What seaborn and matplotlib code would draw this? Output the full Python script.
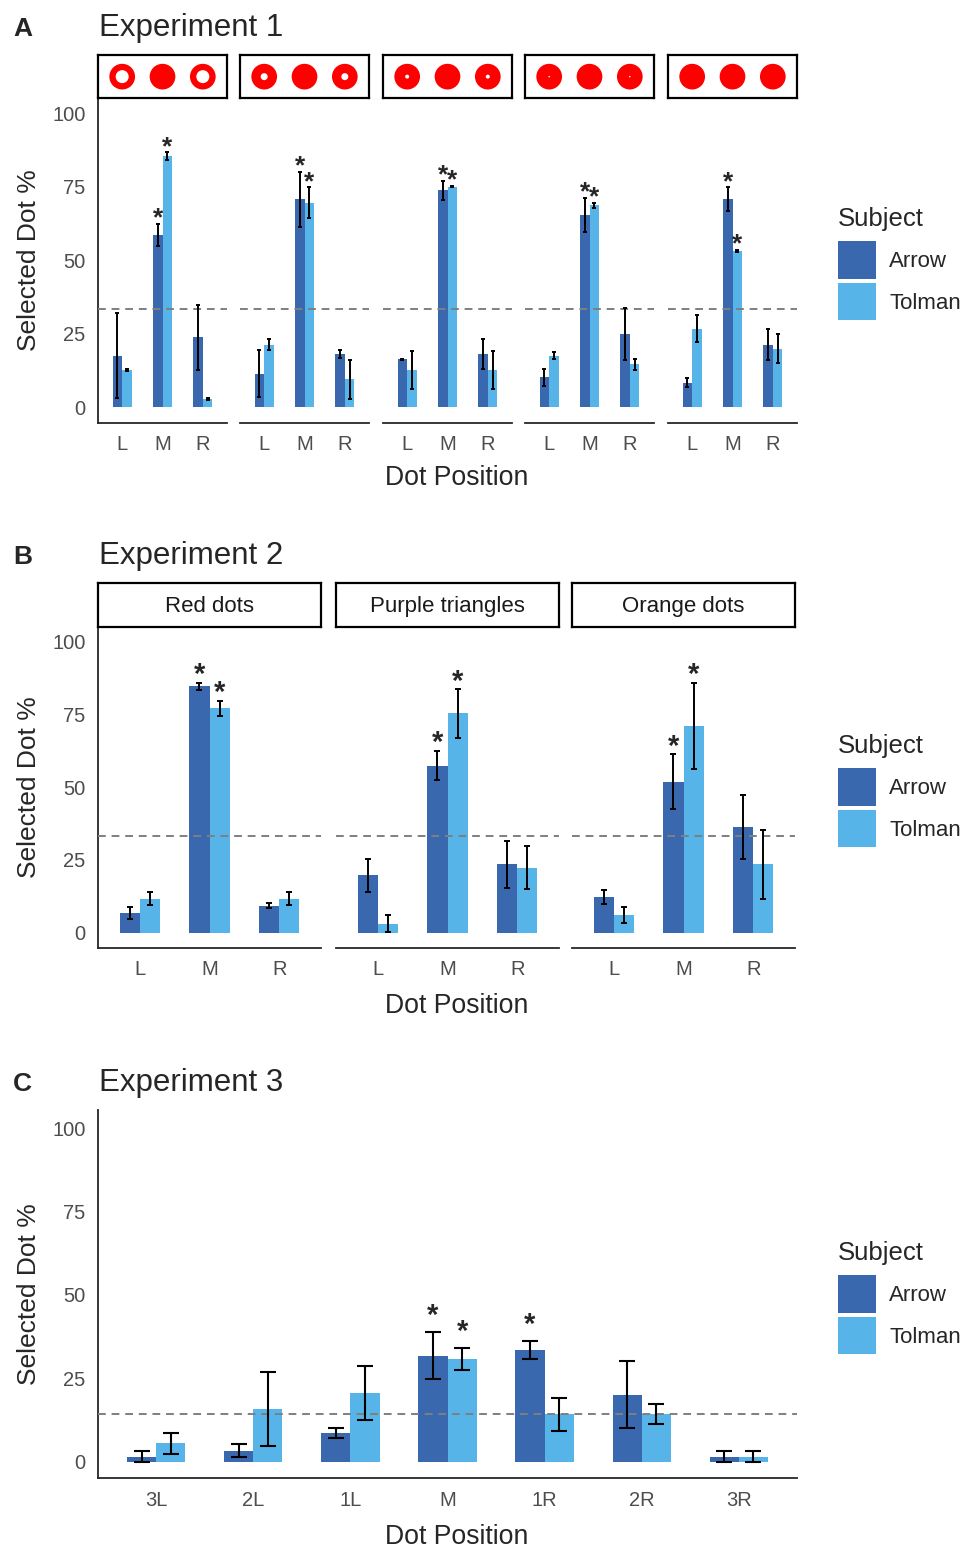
import matplotlib
matplotlib.use("Agg")
import matplotlib.pyplot as plt
from matplotlib.patches import Patch
import numpy as np
import pandas as pd
import seaborn as sns

sns.set_style("white")
plt.rcParams["font.family"] = ["Liberation Sans", "DejaVu Sans"]

# ---------------- data ----------------
subjects = ["Arrow", "Tolman"]
colors = {"Arrow": "#3A68AF", "Tolman": "#56B4E9"}

# Experiment 1: five stimulus sets, dots L/M/R
exp1_pos = ["L", "M", "R"]
exp1_holes = [13, 7, 4, 1.5, 0]  # white centre of the flanking dots (px)
exp1_arrow = [[17.6, 58.5, 23.8], [11.5, 70.7, 18.1], [16.3, 73.8, 18.1],
              [10.2, 65.3, 24.9], [8.4, 70.7, 21.3]]
exp1_arrow_se = [[14.5, 3.8, 11.1], [8.0, 9.3, 1.4], [0.3, 3.2, 5.2],
                 [2.8, 5.8, 8.7], [1.5, 4.0, 5.3]]
exp1_tolman = [[12.7, 85.3, 2.9], [21.3, 69.5, 9.6], [12.7, 75.0, 12.7],
               [17.6, 68.6, 14.6], [26.8, 53.1, 20.0]]
exp1_tolman_se = [[0.3, 1.3, 0.3], [1.8, 5.2, 6.6], [6.6, 0.3, 6.5],
                  [1.2, 0.8, 1.8], [4.6, 0.3, 4.8]]
exp1_star_arrow = [[0, 1, 0]] * 5
exp1_star_tolman = [[0, 1, 0]] * 5
exp1_chance = 100 / 3

# Experiment 2: three stimulus types
exp2_facets = ["Red dots", "Purple triangles", "Orange dots"]
exp2_pos = ["L", "M", "R"]
exp2_arrow = [[6.7, 84.6, 9.3], [19.7, 57.4, 23.4], [12.2, 51.8, 36.3]]
exp2_arrow_se = [[2.0, 1.3, 0.9], [5.6, 5.0, 8.1], [2.5, 9.5, 11.1]]
exp2_tolman = [[11.7, 77.1, 11.7], [3.1, 75.3, 22.2], [6.1, 71.0, 23.4]]
exp2_tolman_se = [[2.2, 2.6, 2.2], [2.9, 8.3, 7.4], [2.7, 14.9, 11.8]]
exp2_star_arrow = [[0, 1, 0]] * 3
exp2_star_tolman = [[0, 1, 0]] * 3
exp2_chance = 100 / 3

# Experiment 3: seven dots
exp3_pos = ["3L", "2L", "1L", "M", "1R", "2R", "3R"]
exp3_arrow = [1.5, 3.3, 8.6, 31.8, 33.5, 20.1, 1.5]
exp3_arrow_se = [1.6, 1.9, 1.6, 7.0, 2.7, 10.0, 1.6]
exp3_tolman = [5.5, 15.8, 20.6, 30.8, 14.2, 14.2, 1.5]
exp3_tolman_se = [3.1, 11.0, 8.1, 3.2, 4.9, 3.0, 1.6]
exp3_star_arrow = [0, 0, 0, 1, 1, 0, 0]
exp3_star_tolman = [0, 0, 0, 1, 0, 0, 0]
exp3_chance = 100 / 7

# ---------------- layout helpers ----------------
W, H = 972, 1547
fig = plt.figure(figsize=(W / 100, H / 100), dpi=100)


def rect(x0, y0, x1, y1):
    return [x0 / W, 1 - y1 / H, (x1 - x0) / W, (y1 - y0) / H]


def draw_facet(ax, pos, arrow, arrow_se, tolman, tolman_se, star_a, star_t,
               width, capsize, elw, star_off, star_fs, chance):
    df = pd.DataFrame({
        "pos": list(pos) * 2,
        "subject": ["Arrow"] * len(pos) + ["Tolman"] * len(pos),
        "pct": list(arrow) + list(tolman),
    })
    sns.barplot(data=df, x="pos", y="pct", hue="subject", order=pos,
                hue_order=subjects, palette=colors, width=width, saturation=1,
                errorbar=None, legend=False, linewidth=0, ax=ax)
    ax.axhline(chance, color="#7F7F7F", ls=(0, (4, 3)), lw=1.4, zorder=3)
    for cont, se, st in zip(ax.containers, [arrow_se, tolman_se], [star_a, star_t]):
        for bar, s, flag in zip(cont, se, st):
            xc = bar.get_x() + bar.get_width() / 2
            h = bar.get_height()
            ax.errorbar(xc, h, yerr=s, fmt="none", ecolor="black",
                        elinewidth=elw, capsize=capsize, capthick=elw, zorder=4)
            if flag:
                ax.annotate("*", (xc, h + s), xytext=(0, star_off),
                            textcoords="offset points", ha="center",
                            va="center", fontsize=star_fs, fontweight="bold",
                            zorder=5)


def style(ax, ncat, first):
    ax.set_xlim(-0.6, ncat - 0.4)
    ax.set_ylim(-5.2, 105)
    ax.set_xlabel("")
    ax.set_ylabel("")
    ax.spines["top"].set_visible(False)
    ax.spines["right"].set_visible(False)
    ax.spines["bottom"].set_linewidth(1.3)
    ax.spines["left"].set_linewidth(1.3)
    ax.tick_params(axis="both", length=4, width=1, color="#333333",
                   labelsize=14.5, labelcolor="#4D4D4D", pad=5)
    ax.set_yticks([0, 25, 50, 75, 100])
    if not first:
        ax.spines["left"].set_visible(False)
        ax.tick_params(axis="y", left=False, labelleft=False)


def strip(box):
    sax = fig.add_axes(box)
    sax.set_xticks([])
    sax.set_yticks([])
    for sp in sax.spines.values():
        sp.set_linewidth(1.6)
        sp.set_color("black")
    return sax


def legend(ax, top):
    handles = [Patch(facecolor=colors[s], edgecolor="none", label=s) for s in subjects]
    leg = ax.legend(handles=handles, title="Subject", loc="upper left",
                    bbox_to_anchor=(838 / W, 1 - top / H),
                    bbox_transform=fig.transFigure, frameon=False,
                    fontsize=16, title_fontsize=18.5, handlelength=1.7,
                    handleheight=2.2, labelspacing=0.2, handletextpad=0.6,
                    borderpad=0, borderaxespad=0, alignment="left")
    leg._legend_box.sep = 7.5  # a bit more room under the title
    return leg


def panel_text(letter, title, base_y, ax_top, ax_bottom, xlab_y):
    fig.text(13 / W, 1 - base_y / H, letter, fontsize=19, fontweight="bold",
             va="baseline", ha="left")
    fig.text(99 / W, 1 - base_y / H, title, fontsize=22.5, va="baseline", ha="left")
    fig.text(29 / W, 1 - (ax_top + ax_bottom) / 2 / H, "Selected Dot %",
             fontsize=19, rotation=90, va="center", ha="center")
    fig.text(457 / W, 1 - xlab_y / H, "Dot Position", fontsize=19.2,
             va="baseline", ha="center")


# ---------------- Experiment 1 ----------------
a_top, a_bot = 98.3, 422.7
a_lefts = [98, 240, 383, 525, 668]
for i, x0 in enumerate(a_lefts):
    ax = fig.add_axes(rect(x0, a_top, x0 + 129, a_bot))
    draw_facet(ax, exp1_pos, exp1_arrow[i], exp1_arrow_se[i], exp1_tolman[i],
               exp1_tolman_se[i], exp1_star_arrow[i], exp1_star_tolman[i],
               width=0.48, capsize=1.2, elw=1.4, star_off=4, star_fs=19,
               chance=exp1_chance)
    style(ax, 3, i == 0)
    sax = strip(rect(x0, 55, x0 + 129, a_top))
    sax.set_xlim(-0.6, 2.6)
    sax.set_ylim(0, 1)
    cx = np.arange(len(exp1_pos))
    sax.scatter(cx, [0.5] * 3, s=18.5 ** 2, color="red", edgecolor="none")
    hole = exp1_holes[i] / 1.389
    if hole > 0:
        sax.scatter(cx[[0, 2]], [0.5, 0.5], s=hole ** 2, color="white",
                    edgecolor="none")
    if i == len(a_lefts) - 1:
        legend(ax, 207)
panel_text("A", "Experiment 1", 36, a_top, a_bot, 485)

# ---------------- Experiment 2 ----------------
b_top, b_bot = 627, 947.7
b_lefts = [98, 336, 572]
for i, x0 in enumerate(b_lefts):
    ax = fig.add_axes(rect(x0, b_top, x0 + 223, b_bot))
    draw_facet(ax, exp2_pos, exp2_arrow[i], exp2_arrow_se[i], exp2_tolman[i],
               exp2_tolman_se[i], exp2_star_arrow[i], exp2_star_tolman[i],
               width=0.58, capsize=2.0, elw=1.4, star_off=5.5, star_fs=21,
               chance=exp2_chance)
    style(ax, 3, i == 0)
    sax = strip(rect(x0, 583, x0 + 223, b_top))
    sax.text(0.5, 0.46, exp2_facets[i], transform=sax.transAxes, fontsize=16,
             color="#1A1A1A", ha="center", va="center")
    if i == len(b_lefts) - 1:
        legend(ax, 734)
panel_text("B", "Experiment 2", 564, b_top, b_bot, 1013)

# ---------------- Experiment 3 ----------------
c_top, c_bot = 1110, 1478.3
ax = fig.add_axes(rect(98, c_top, 797, c_bot))
draw_facet(ax, exp3_pos, exp3_arrow, exp3_arrow_se, exp3_tolman, exp3_tolman_se,
           exp3_star_arrow, exp3_star_tolman, width=0.6, capsize=6, elw=1.5,
           star_off=11.5, star_fs=21, chance=exp3_chance)
style(ax, 7, True)
ax.set_ylim(-5, 105.4)
legend(ax, 1241)
panel_text("C", "Experiment 3", 1091, c_top, c_bot, 1544)

fig.savefig("out.png", dpi=100)
